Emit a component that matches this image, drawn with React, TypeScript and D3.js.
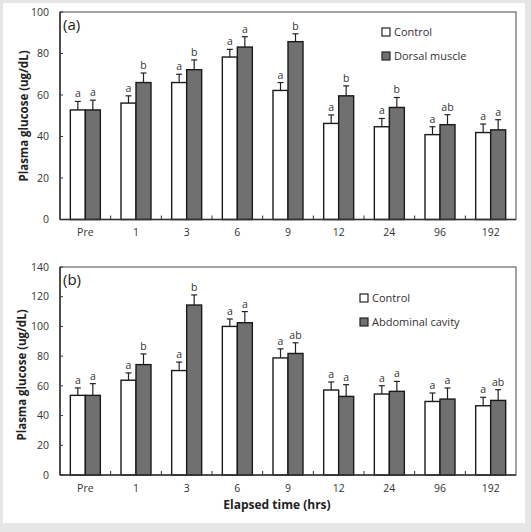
import React from "react";
import * as d3 from "d3";

// Sampling times (hours after exposure)
const categories = ["Pre", "1", "3", "6", "9", "12", "24", "96", "192"];

// Panel (a): control vs dorsal muscle
const aControl = [52.8, 56.1, 66.0, 78.3, 62.2, 46.3, 44.7, 40.9, 41.9];
const aControlErr = [4.1, 3.5, 4.0, 3.7, 3.8, 4.1, 4.0, 3.8, 4.1];
const aTreat = [52.8, 66.0, 72.2, 83.1, 85.7, 59.6, 54.0, 45.7, 43.2];
const aTreatErr = [4.7, 4.6, 4.7, 5.0, 3.8, 4.8, 4.8, 4.8, 4.9];
const aControlLetters = ["a", "a", "a", "a", "a", "a", "a", "a", "a"];
const aTreatLetters = ["a", "b", "b", "a", "b", "b", "b", "ab", "a"];
const aTicks = [0, 20, 40, 60, 80, 100];

// Panel (b): control vs abdominal cavity
const bControl = [53.6, 63.8, 70.3, 100.0, 78.8, 57.2, 54.5, 49.5, 46.6];
const bControlErr = [5.0, 4.9, 5.7, 5.0, 6.1, 5.4, 5.6, 5.7, 5.7];
const bTreat = [53.6, 74.3, 114.4, 102.5, 81.8, 52.9, 56.3, 51.1, 50.2];
const bTreatErr = [7.9, 7.2, 6.8, 7.5, 7.2, 7.9, 6.7, 7.5, 7.2];
const bControlLetters = ["a", "a", "a", "a", "a", "a", "a", "a", "a"];
const bTreatLetters = ["a", "b", "b", "a", "ab", "a", "a", "a", "ab"];
const bTicks = [0, 20, 40, 60, 80, 100, 120, 140];

const FONT = "'Open Sans', 'Noto Sans', sans-serif";
const DARK_FILL = "#707070";

type PanelProps = {
  top: number;
  bottom: number;
  yMax: number;
  ticks: number[];
  control: number[];
  controlErr: number[];
  treat: number[];
  treatErr: number[];
  controlLetters: string[];
  treatLetters: string[];
  tag: string;
  treatName: string;
  legendX: number;
  legendY: number;
};

const LEFT = 60;
const RIGHT = 516;

function Panel(p: PanelProps) {
  const x = d3.scaleBand<string>().domain(categories).range([LEFT, RIGHT]).padding(0);
  const y = d3.scaleLinear().domain([0, p.yMax]).range([p.bottom, p.top]);
  const barW = 15;
  const capW = 3;

  const series = [
    { vals: p.control, errs: p.controlErr, letters: p.controlLetters, fill: "#ffffff", off: -barW },
    { vals: p.treat, errs: p.treatErr, letters: p.treatLetters, fill: DARK_FILL, off: 0 },
  ];

  return (
    <g>
      {/* plot frame */}
      <rect x={LEFT} y={p.top} width={RIGHT - LEFT} height={p.bottom - p.top}
        fill="none" stroke="#666" strokeWidth={1.2} />
      {/* y axis */}
      <line x1={LEFT} x2={LEFT} y1={p.top} y2={p.bottom} stroke="#333" strokeWidth={1.5} />
      {p.ticks.map((t) => (
        <g key={t}>
          <line x1={LEFT} x2={LEFT + 3} y1={y(t)} y2={y(t)} stroke="#333" strokeWidth={1} />
          <text x={49} y={y(t)} dy="0.35em" textAnchor="end" fontSize={10.5}
            fill="#333" fontFamily={FONT}>{t}</text>
        </g>
      ))}
      {/* group separators on the x axis */}
      {categories.slice(1).map((c) => (
        <line key={c} x1={x(c)!} x2={x(c)!} y1={p.bottom} y2={p.bottom - 4}
          stroke="#333" strokeWidth={1} />
      ))}
      {categories.map((c) => (
        <text key={c} x={x(c)! + x.bandwidth() / 2} y={p.bottom + 13} dy="0.35em"
          textAnchor="middle" fontSize={10.5} fill="#333" fontFamily={FONT}>{c}</text>
      ))}
      {/* bars with error bars and letters */}
      {series.map((s, si) =>
        categories.map((c, i) => {
          const cx = x(c)! + x.bandwidth() / 2 + s.off;
          const mid = cx + barW / 2;
          const v = s.vals[i];
          const e = v + s.errs[i];
          return (
            <g key={`${si}-${c}`}>
              <line x1={mid} x2={mid} y1={y(v)} y2={y(e)} stroke="#222" strokeWidth={1.2} />
              <line x1={mid - capW} x2={mid + capW} y1={y(e)} y2={y(e)} stroke="#222" strokeWidth={1.2} />
              <rect x={cx} y={y(v)} width={barW} height={p.bottom - y(v)}
                fill={s.fill} stroke="#1a1a1a" strokeWidth={1.4} />
              <text x={mid} y={y(e) - 4} textAnchor="middle" fontSize={10.5}
                fill="#333" fontFamily={FONT}>{s.letters[i]}</text>
            </g>
          );
        })
      )}
      {/* bottom axis line drawn over bars */}
      <line x1={LEFT} x2={RIGHT} y1={p.bottom} y2={p.bottom} stroke="#333" strokeWidth={1.5} />
      {/* panel tag */}
      <text x={LEFT + 3} y={p.top + 18} fontSize={15} fill="#222" fontFamily={FONT}>{p.tag}</text>
      {/* legend */}
      <rect x={p.legendX} y={p.legendY - 4} width={8} height={8} fill="#fff" stroke="#222" strokeWidth={1.2} />
      <text x={p.legendX + 12} y={p.legendY} dy="0.35em" fontSize={11} fill="#333" fontFamily={FONT}>Control</text>
      <rect x={p.legendX} y={p.legendY + 20} width={8} height={8} fill={DARK_FILL} stroke="#222" strokeWidth={1.2} />
      <text x={p.legendX + 12} y={p.legendY + 24} dy="0.35em" fontSize={11} fill="#333" fontFamily={FONT}>{p.treatName}</text>
    </g>
  );
}

export default function App() {
  return (
    <svg width={531} height={532} style={{ position: "absolute", left: 0, top: 0 }}>
      <rect x={0} y={0} width={531} height={532} fill="#e6e6e6" />
      <rect x={3} y={3} width={522} height={520} fill="#ffffff" />
      <Panel top={12} bottom={219.5} yMax={100} ticks={aTicks}
        control={aControl} controlErr={aControlErr} treat={aTreat} treatErr={aTreatErr}
        controlLetters={aControlLetters} treatLetters={aTreatLetters}
        tag="(a)" treatName="Dorsal muscle" legendX={382} legendY={32} />
      <Panel top={267} bottom={475} yMax={140} ticks={bTicks}
        control={bControl} controlErr={bControlErr} treat={bTreat} treatErr={bTreatErr}
        controlLetters={bControlLetters} treatLetters={bTreatLetters}
        tag="(b)" treatName="Abdominal cavity" legendX={360} legendY={298} />
      <text transform="translate(24,116) rotate(-90)" textAnchor="middle" dy="0.35em"
        fontSize={11.5} fontWeight="bold" fill="#222" fontFamily={FONT}>Plasma glucose (ug/dL)</text>
      <text transform="translate(22,375) rotate(-90)" textAnchor="middle" dy="0.35em"
        fontSize={11.5} fontWeight="bold" fill="#222" fontFamily={FONT}>Plasma glucose (ug/dL)</text>
      <text x={277} y={505} dy="0.35em" textAnchor="middle" fontSize={12}
        fontWeight="bold" fill="#222" fontFamily={FONT}>Elapsed time (hrs)</text>
    </svg>
  );
}
